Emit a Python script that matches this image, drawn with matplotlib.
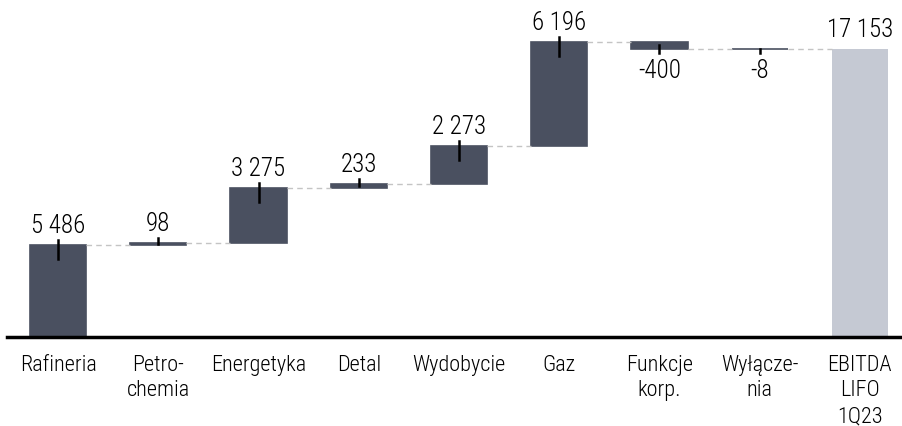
import matplotlib.pyplot as plt
import numpy as np
from matplotlib import font_manager

# waska czcionka jesli jest, inaczej Liberation Sans
dostepne = {f.name for f in font_manager.fontManager.ttflist}
waskie = [n for n in ['Liberation Sans Narrow', 'Roboto Condensed', 'Arial Narrow',
                      'Open Sans Condensed', 'DejaVu Sans Condensed'] if n in dostepne]
plt.rcParams['font.family'] = waskie[:1] + ['Liberation Sans', 'DejaVu Sans']
plt.rcParams['font.weight'] = 'light'

# dane
kategorie = ['Rafineria', 'Petro-\nchemia', 'Energetyka', 'Detal', 'Wydobycie', 'Gaz',
             'Funkcje\nkorp.', 'Wyłącze-\nnia', 'EBITDA\nLIFO\n1Q23']
wartosci = [5486, 98, 3275, 233, 2273, 6196, -400, -8]
suma = 17153

ciemny = '#4a5060'
jasny = '#c5c9d3'

x = np.arange(len(kategorie))
koniec = np.cumsum(wartosci)
start = koniec - np.array(wartosci)

fig = plt.figure(figsize=(9.03, 4.27), dpi=100)
ax = fig.add_axes([7 / 903, 89 / 427, 896 / 903, 338 / 427])

szer = 0.56
# slupki skladowe
ax.bar(x[:-1], wartosci, bottom=start, width=szer, color=ciemny,
       edgecolor=ciemny, linewidth=1.2)
# slupek sumy
ax.bar(x[-1], suma, width=szer, color=jasny)

px = 1 / 0.0168  # jednostki danych na piksel
# linie laczace
for i in range(len(kategorie) - 1):
    ax.plot([x[i] + szer / 2, x[i + 1] - szer / 2], [koniec[i], koniec[i]],
            color='#c4c4c4', lw=1, ls=(0, (4, 3)), zorder=1)

# kreski i etykiety
for i, v in enumerate(wartosci):
    e = koniec[i]
    w = min(14 * px, abs(v) / 2)
    tekst = f'{v:,}'.replace(',', ' ')
    if v >= 0:
        ax.plot([x[i], x[i]], [e + 5 * px, e - w], color='black', lw=1.8, zorder=3)
        ax.text(x[i], e + 8 * px, tekst, ha='center', va='bottom', fontsize=18, color='black')
    else:
        ax.plot([x[i], x[i]], [e - 4 * px, e + w], color='black', lw=1.8, zorder=3)
        ax.text(x[i], e - 9 * px, tekst, ha='center', va='top', fontsize=18, color='black')

ax.text(x[-1], suma + 8 * px, f'{suma:,}'.replace(',', ' '), ha='center', va='bottom',
        fontsize=18, color='black')

ax.set_xlim(-0.51, 8.43)
ax.set_ylim(0, 20120)
ax.set_xticks(x)
ax.set_xticklabels(kategorie, fontsize=16, linespacing=1.3, color='black')
ax.tick_params(axis='x', length=0, pad=12)
ax.set_yticks([])
for s in ['top', 'right', 'left']:
    ax.spines[s].set_visible(False)
ax.spines['bottom'].set_linewidth(2.5)
ax.spines['bottom'].set_color('black')

plt.savefig('out.png', dpi=100)
